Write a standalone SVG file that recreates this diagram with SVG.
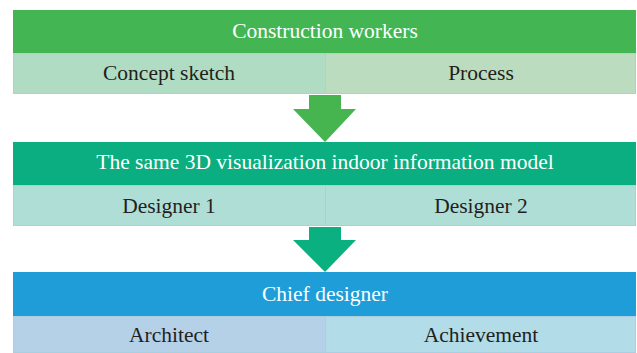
<svg xmlns="http://www.w3.org/2000/svg" width="637" height="353" viewBox="0 0 637 353">
<style>
text{font-family:"Liberation Serif","DejaVu Serif",serif;font-size:21.5px;text-anchor:middle}
.h{fill:#ffffff}
.s{fill:#231f20}
.cell{stroke:#a9cfe0;stroke-width:1}
</style>
<rect width="637" height="353" fill="#ffffff"/>
<g id="construction-workers">
<rect x="13" y="10" width="623" height="43" fill="#43b653"/>
<text class="h" x="325" y="38">Construction workers</text>
</g>
<g id="concept-sketch">
<rect class="cell" x="13.5" y="53.5" width="312" height="40" fill="#afdcc2"/>
<text class="s" x="169" y="80">Concept sketch</text>
</g>
<g id="process">
<rect class="cell" x="325.5" y="53.5" width="310" height="40" fill="#bbdcbe"/>
<text class="s" x="481" y="80">Process</text>
</g>
<g id="model">
<rect x="13" y="142" width="623" height="43" fill="#0aae80"/>
<text class="h" x="325" y="169">The same 3D visualization indoor information model</text>
</g>
<g id="designer-1">
<rect class="cell" x="13.5" y="185.5" width="312" height="40" fill="#afded6"/>
<text class="s" x="169" y="213">Designer 1</text>
</g>
<g id="designer-2">
<rect class="cell" x="325.5" y="185.5" width="310" height="40" fill="#afded6"/>
<text class="s" x="481" y="213">Designer 2</text>
</g>
<g id="chief-designer">
<rect x="13" y="272" width="623" height="44" fill="#1e9dd8"/>
<text class="h" x="325" y="301">Chief designer</text>
</g>
<g id="architect">
<rect class="cell" x="13.5" y="316.5" width="312" height="36" fill="#b5d1e8"/>
<text class="s" x="169" y="342">Architect</text>
</g>
<g id="achievement">
<rect class="cell" x="325.5" y="316.5" width="310" height="36" fill="#b1dce8"/>
<text class="s" x="481" y="342">Achievement</text>
</g>
<g id="connectors">
<polygon points="309,95 341,95 341,109 356,109 325,142 293,109 309,109" fill="#46b550"/>
<polygon points="309,227 341,227 341,240 356,240 325,272 293,240 309,240" fill="#0bb080"/>
</g>
</svg>
